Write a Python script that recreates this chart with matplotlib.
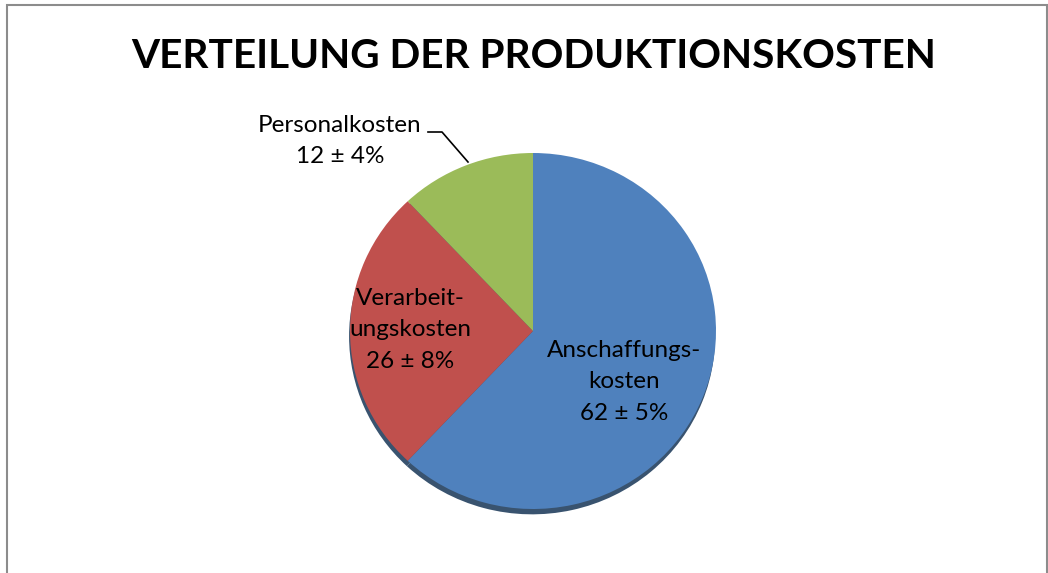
import matplotlib
matplotlib.use("Agg")
import matplotlib.pyplot as plt
from matplotlib.patches import Rectangle

# data
names = ["Anschaffungs-\nkosten", "Verarbeit-\nungskosten", "Personalkosten"]
values = [62, 26, 12]
errors = [5, 8, 4]
colors = ["#4F81BD", "#C0504D", "#9BBB59"]
title = "VERTEILUNG DER PRODUKTIONSKOSTEN"

W, H = 1048, 573
fig = plt.figure(figsize=(W / 100, H / 100), dpi=100)
plt.rcParams['font.family'] = ['Lato', 'DejaVu Sans']

def px(x, y):
    return x / W, 1 - y / H

# border
fig.patches.append(Rectangle(px(6.5, 620), (1046.5 - 6.5) / W, (620 - 4.5) / H,
                             transform=fig.transFigure, fill=False,
                             edgecolor="#8c8c8c", linewidth=1.5))

fig.text(*px(534, 57), title, ha="center", va="center",
         fontsize=29.2, fontweight="bold", color="black")

cx, cy, rx, ry = 533, 331, 183, 178
ax = fig.add_axes([(cx - rx) / W, 1 - (cy + ry) / H, 2 * rx / W, 2 * ry / H])
# shadow
sh = ax.pie(values, startangle=90, counterclock=False, radius=1.0,
            colors=["#23405f"] * len(values), center=(-0.005, -0.03),
            wedgeprops=dict(linewidth=0))
for w in sh[0]:
    w.set_alpha(0.9)
ax.pie(values, startangle=90, counterclock=False, radius=1.0, colors=colors,
       wedgeprops=dict(linewidth=0))
ax.set_aspect("auto")
ax.set_xlim(-1, 1)
ax.set_ylim(-1, 1)
ax.axis("off")

labels = [f"{n}\n{v} ± {e}%" for n, v, e in zip(names, values, errors)]
label_pos = [(624, 382), (410, 330), (340, 141)]
for lab, (x, y) in zip(labels, label_pos):
    fig.text(*px(x, y), lab, ha="center", va="center", fontsize=17.5,
             color="black", linespacing=1.6)

# leader line for Personalkosten
xs = [428, 442, 468]
ys = [132, 132, 162]
fig.add_artist(plt.Line2D([x / W for x in xs], [1 - y / H for y in ys],
                          color="black", linewidth=1.2))

fig.savefig("out.png", dpi=100)
